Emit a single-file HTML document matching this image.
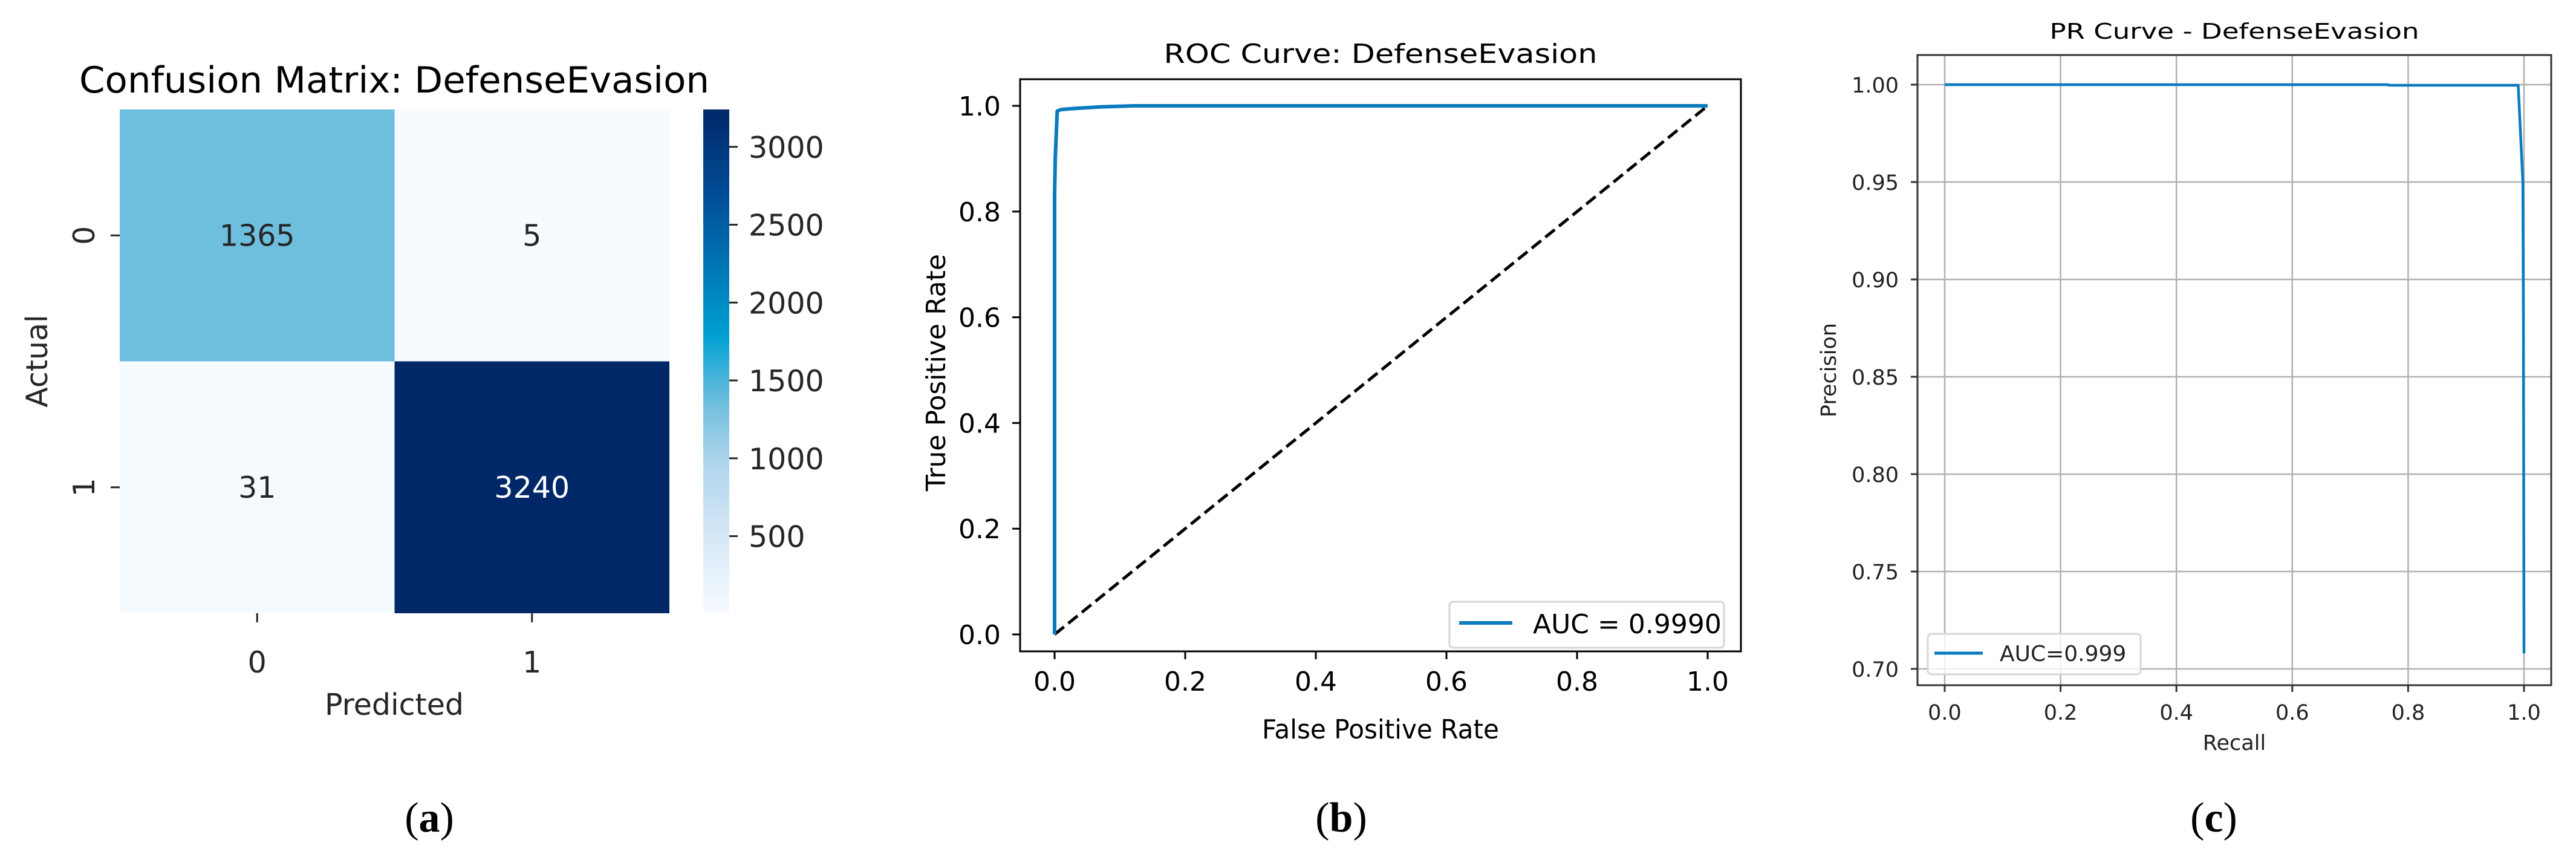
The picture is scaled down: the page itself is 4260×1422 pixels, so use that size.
<!DOCTYPE html>
<html><head><meta charset="utf-8"><style>
html,body{margin:0;padding:0;background:#fff;}
svg{display:block;font-family:"DejaVu Sans","Liberation Sans",sans-serif;}
</style></head><body>
<svg id="fig" width="4260" height="1422" viewBox="0 0 4260 1422" xmlns="http://www.w3.org/2000/svg">
<rect width="4260" height="1422" fill="#fff"/>
<g id="pa"></g>
<g id="pb"></g>
<g id="pc"></g>
<text x="710" y="1375" font-family="Liberation Serif, serif" font-size="70" text-anchor="middle">(<tspan font-weight="bold">a</tspan>)</text>
<text x="2218" y="1375" font-family="Liberation Serif, serif" font-size="70" text-anchor="middle">(<tspan font-weight="bold">b</tspan>)</text>
<text x="3661" y="1375" font-family="Liberation Serif, serif" font-size="70" text-anchor="middle">(<tspan font-weight="bold">c</tspan>)</text>
</svg>
<script>
// ---- data ----
const cmRows = ["0", "1"];
const cmCols = ["0", "1"];
const cmValues = [[1365, 5], [31, 3240]];
const cbTicks = [500, 1000, 1500, 2000, 2500, 3000];
const rocFpr = [0, 0, 0.001, 0.004, 0.01, 0.03, 0.07, 0.12, 0.5, 1];
const rocTpr = [0, 0.83, 0.90, 0.99, 0.993, 0.995, 0.998, 1.0, 1.0, 1.0];
const rocTicks = [0, 0.2, 0.4, 0.6, 0.8, 1.0];
const prRecall = [0, 0.765, 0.767, 0.99, 0.998, 0.999, 1.0];
const prPrecision = [1.0, 1.0, 0.9997, 0.9997, 0.95, 0.88, 0.708];
const prXTicks = [0, 0.2, 0.4, 0.6, 0.8, 1.0];
const prYTicks = [0.70, 0.75, 0.80, 0.85, 0.90, 0.95, 1.00];

const NS = "http://www.w3.org/2000/svg";
function mk(parent, tag, attrs, text) {
  const e = document.createElementNS(NS, tag);
  for (const k in attrs) e.setAttribute(k, attrs[k]);
  if (text !== undefined) e.textContent = text;
  parent.appendChild(e);
  return e;
}
// colormap
const stops = [[0,[247,251,255]],[0.15,[214,232,246]],[0.3,[175,213,236]],[0.42,[110,190,221]],[0.55,[0,160,210]],[0.7,[0,114,178]],[0.85,[0,72,146]],[1,[0,40,104]]];
function cmap(t) {
  t = Math.max(0, Math.min(1, t));
  for (let i = 1; i < stops.length; i++) {
    if (t <= stops[i][0]) {
      const a = stops[i-1], b = stops[i], f = (t - a[0]) / (b[0] - a[0]);
      const c = a[1].map((v, j) => Math.round(v + (b[1][j] - v) * f));
      return "rgb(" + c.join(",") + ")";
    }
  }
  return "rgb(0,40,104)";
}

// ---- Panel A: confusion matrix ----
(function () {
  const g = document.getElementById("pa");
  const L = 198, R = 1107, T = 181, B = 1014;
  const flat = cmValues.flat();
  const vmin = Math.min(...flat), vmax = Math.max(...flat);
  const cw = (R - L) / cmCols.length, ch = (B - T) / cmRows.length;
  let e = mk(g, "text", {x: 652, y: 153, "font-size": 60, "text-anchor": "middle", textLength: 1042, lengthAdjust: "spacingAndGlyphs"}, "Confusion Matrix: DefenseEvasion");
  
  
  cmValues.forEach((row, i) => row.forEach((v, j) => {
    const t = (v - vmin) / (vmax - vmin);
    const r = mk(g, "rect", {x: L + j * cw, y: T + i * ch, width: cw, height: ch, fill: cmap(t)});
    
    
    const tx = mk(g, "text", {x: L + (j + 0.5) * cw, y: T + (i + 0.5) * ch + 17, "font-size": 49, "text-anchor": "middle", fill: t > 0.5 ? "#fff" : "#262626"}, String(v));
    
    
  }));
  cmCols.forEach((c, j) => {
    const x = L + (j + 0.5) * cw;
    mk(g, "line", {x1: x, x2: x, y1: B, y2: B + 15, stroke: "#262626", "stroke-width": 3});
    const t = mk(g, "text", {x: x, y: 1112, "font-size": 49, "text-anchor": "middle", fill: "#262626"}, c);
    
    
  });
  cmRows.forEach((rw, i) => {
    const y = T + (i + 0.5) * ch;
    mk(g, "line", {x1: L - 15, x2: L, y1: y, y2: y, stroke: "#262626", "stroke-width": 3});
    const t = mk(g, "text", {x: 156, y: y, "font-size": 49, "text-anchor": "middle", fill: "#262626", transform: "rotate(-90 156 " + y + ")"}, rw);
    
    
  });
  e = mk(g, "text", {x: 652, y: 1182, "font-size": 49, "text-anchor": "middle", fill: "#262626"}, "Predicted");
  
  
  e = mk(g, "text", {x: 78, y: 597, "font-size": 49, "text-anchor": "middle", fill: "#262626", transform: "rotate(-90 78 597)"}, "Actual");
  
  
  // colorbar
  const cL = 1163, cR = 1206;
  const defs = mk(g, "defs", {});
  const grad = mk(defs, "linearGradient", {id: "cbg", x1: 0, y1: 1, x2: 0, y2: 0});
  for (let k = 0; k <= 20; k++) mk(grad, "stop", {offset: k / 20, "stop-color": cmap(k / 20)});
  e = mk(g, "rect", {x: cL, y: T, width: cR - cL, height: B - T, fill: "url(#cbg)"});
  
  
  const cy = v => B - (v - vmin) / (vmax - vmin) * (B - T);
  cbTicks.forEach(v => {
    const y = cy(v);
    mk(g, "line", {x1: cR, x2: cR + 14, y1: y, y2: y, stroke: "#262626", "stroke-width": 3});
    const t = mk(g, "text", {x: 1238, y: y + 18, "font-size": 49, fill: "#262626"}, String(v));
    
    
  });
})();

// ---- Panel B: ROC ----
(function () {
  const g = document.getElementById("pb");
  const x0 = 1744, x1 = 2824, y0 = 1049, y1 = 175;
  const X = v => x0 + v * (x1 - x0), Y = v => y0 - v * (y0 - y1);
  const L = 1687, R = 2879, T = 131, B = 1077;
  let e = mk(g, "text", {x: 2283, y: 104, "font-size": 44, "text-anchor": "middle", textLength: 717, lengthAdjust: "spacingAndGlyphs"}, "ROC Curve: DefenseEvasion");
  
  
  e = mk(g, "line", {x1: X(0), y1: Y(0), x2: X(1), y2: Y(1), stroke: "#000", "stroke-width": 5, "stroke-dasharray": "20,9"});
  
  
  e = mk(g, "polyline", {points: rocFpr.map((f, i) => X(f) + "," + Y(rocTpr[i])).join(" "), fill: "none", stroke: "#0a7bbd", "stroke-width": 6, "stroke-linejoin": "round"});
  
  
  mk(g, "rect", {x: L, y: T, width: R - L, height: B - T, fill: "none", stroke: "#000", "stroke-width": 3});
  rocTicks.forEach(v => {
    mk(g, "line", {x1: X(v), x2: X(v), y1: B, y2: B + 13, stroke: "#000", "stroke-width": 3});
    let t = mk(g, "text", {x: X(v), y: 1142, "font-size": 44, "text-anchor": "middle"}, v.toFixed(1));
    
    
    mk(g, "line", {x1: L - 13, x2: L, y1: Y(v), y2: Y(v), stroke: "#000", "stroke-width": 3});
    t = mk(g, "text", {x: 1655, y: Y(v) + 16, "font-size": 44, "text-anchor": "end"}, v.toFixed(1));
    
    
  });
  e = mk(g, "text", {x: 2283, y: 1221, "font-size": 44, "text-anchor": "middle", textLength: 392, lengthAdjust: "spacingAndGlyphs"}, "False Positive Rate");
  
  
  e = mk(g, "text", {x: 1563, y: 616, "font-size": 44, "text-anchor": "middle", transform: "rotate(-90 1563 616)"}, "True Positive Rate");
  
  
  e = mk(g, "rect", {x: 2397, y: 995, width: 454, height: 76, rx: 6, fill: "#fff", "fill-opacity": 0.8, stroke: "#d6d6d6", "stroke-width": 3});
  
  
  mk(g, "line", {x1: 2413, x2: 2501, y1: 1030, y2: 1030, stroke: "#0a7bbd", "stroke-width": 6});
  e = mk(g, "text", {x: 2535, y: 1047, "font-size": 44}, "AUC = 0.9990");
  
  
})();

// ---- Panel C: PR ----
(function () {
  const g = document.getElementById("pc");
  const X = v => 3216 + v * (4174 - 3216);
  const Y = v => 140 + (1 - v) / 0.05 * 161;
  const L = 3171, R = 4219, T = 91, B = 1133;
  let e = mk(g, "text", {x: 3695, y: 64, "font-size": 36, "text-anchor": "middle", textLength: 611, lengthAdjust: "spacingAndGlyphs"}, "PR Curve - DefenseEvasion");
  
  
  prXTicks.forEach(v => {
    mk(g, "line", {x1: X(v), x2: X(v), y1: T, y2: B, stroke: "#b0b0b0", "stroke-width": 2.5});
  });
  prYTicks.forEach(v => {
    mk(g, "line", {x1: L, x2: R, y1: Y(v), y2: Y(v), stroke: "#b0b0b0", "stroke-width": 2.5});
  });
  e = mk(g, "polyline", {points: prRecall.map((r, i) => X(r) + "," + Y(prPrecision[i])).join(" "), fill: "none", stroke: "#0a7bbd", "stroke-width": 4.5, "stroke-linejoin": "round"});
  
  
  mk(g, "rect", {x: L, y: T, width: R - L, height: B - T, fill: "none", stroke: "#333", "stroke-width": 3});
  prXTicks.forEach(v => {
    mk(g, "line", {x1: X(v), x2: X(v), y1: B, y2: B + 11, stroke: "#333", "stroke-width": 3});
    const t = mk(g, "text", {x: X(v), y: 1190, "font-size": 35, "text-anchor": "middle", fill: "#222"}, v.toFixed(1));
    
    
  });
  prYTicks.forEach(v => {
    mk(g, "line", {x1: L - 11, x2: L, y1: Y(v), y2: Y(v), stroke: "#333", "stroke-width": 3});
    const t = mk(g, "text", {x: 3140, y: Y(v) + 13, "font-size": 35, "text-anchor": "end", fill: "#222"}, v.toFixed(2));
    
    
  });
  e = mk(g, "text", {x: 3695, y: 1240, "font-size": 35, "text-anchor": "middle", fill: "#222"}, "Recall");
  
  
  e = mk(g, "text", {x: 3036, y: 612, "font-size": 35, "text-anchor": "middle", fill: "#222", transform: "rotate(-90 3036 612)"}, "Precision");
  
  
  e = mk(g, "rect", {x: 3188, y: 1048, width: 352, height: 67, rx: 6, fill: "#fff", "fill-opacity": 0.8, stroke: "#d6d6d6", "stroke-width": 3});
  
  
  mk(g, "line", {x1: 3199, x2: 3279, y1: 1080, y2: 1080, stroke: "#0a7bbd", "stroke-width": 5});
  e = mk(g, "text", {x: 3307, y: 1093, "font-size": 36, fill: "#222"}, "AUC=0.999");
  
  
})();
</script>
</body></html>
